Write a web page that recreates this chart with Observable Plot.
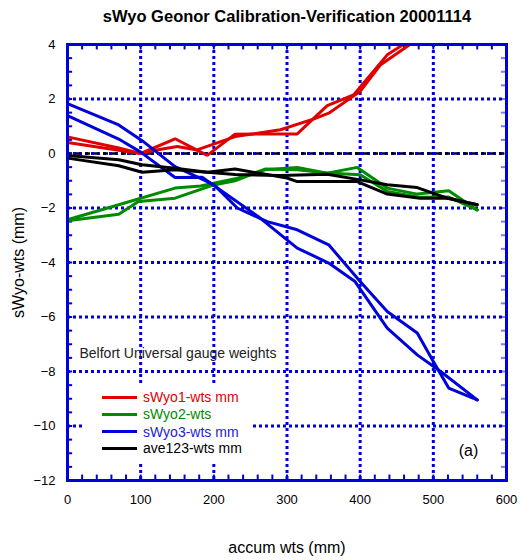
<!DOCTYPE html>
<html><head><meta charset="utf-8">
<script src="https://cdn.jsdelivr.net/npm/d3@7"></script>
<script src="https://cdn.jsdelivr.net/npm/@observablehq/plot@0.6"></script>
<style>
body{margin:0;background:#fff;font-family:"Liberation Sans",Arial,sans-serif}
#wrap{position:relative;width:521px;height:560px}
#legend{position:absolute;left:83px;top:384px;width:167px;height:78px;background:#fff}
.row{position:absolute;left:0;height:18px;width:167px}
.sw{position:absolute;left:19px;top:7.5px;width:35px;height:3px}
.lb{position:absolute;left:60px;top:0;font-size:14px;line-height:18px;white-space:nowrap}
</style>
</head><body><div id="wrap"></div>
<script>
// ---- data (accum wts in mm, differences in mm) ----
const red1X = [0,70,100,147,191,229,314,355,391,437,459];
const red1Y = [0.61,0.20,0.00,0.54,-0.07,0.71,0.72,1.76,2.15,3.62,4.00];
const red2X = [0,70,100,122,150,177,229,291,337,357,400,428,468];
const red2Y = [0.40,0.12,0.00,0.13,0.26,0.13,0.62,0.87,1.27,1.48,2.28,3.26,4.00];

const green1X = [0,70,147,182,229,270,314,355,396,437,478,521,560];
const green1Y = [-2.43,-1.88,-1.27,-1.19,-0.93,-0.60,-0.51,-0.72,-0.51,-1.27,-1.49,-1.37,-2.07];
const green2X = [0,70,97,147,198,229,270,314,355,400,437,482,521,560];
const green2Y = [-2.47,-2.23,-1.76,-1.64,-1.17,-1.00,-0.57,-0.60,-0.72,-0.78,-1.39,-1.61,-1.60,-2.07];

const blue1X = [0,70,102,147,200,232,273,314,357,400,437,478,500,521,560];
const blue1Y = [1.83,1.05,0.47,-0.48,-1.14,-2.00,-2.50,-2.80,-3.35,-4.70,-5.80,-6.59,-7.63,-8.61,-9.04];
const blue2X = [0,70,100,147,184,202,260,300,314,357,393,437,478,510,560];
const blue2Y = [1.39,0.53,0.05,-0.88,-0.87,-1.21,-2.30,-3.17,-3.47,-4.02,-4.70,-6.41,-7.39,-8.00,-9.04];

const ave1X = [0,70,102,147,191,229,300,314,396,437,482,521,560];
const ave1Y = [-0.07,-0.23,-0.41,-0.54,-0.69,-0.57,-0.90,-1.03,-1.03,-1.49,-1.64,-1.64,-1.88];
const ave2X = [0,70,102,147,191,229,291,355,396,437,478,519,560];
const ave2Y = [-0.17,-0.45,-0.69,-0.60,-0.69,-0.77,-0.81,-0.76,-0.95,-1.15,-1.25,-1.64,-1.88];

const xTicks = [0,100,200,300,400,500,600];
const yTicks = [-12,-10,-8,-6,-4,-2,0,2,4];
const xMinor = d3.range(0, 601, 20);
const yMinor = d3.range(-12, 4.01, 0.5);

const legendNames = ["sWyo1-wts mm","sWyo2-wts","sWyo3-wts mm","ave123-wts mm"];
const seriesColors = ["#e00000","#008a00","#0000d8","#000000"];

const titleText = "sWyo Geonor Calibration-Verification 20001114";
const xLabel = "accum wts (mm)";
const yLabel = "sWyo-wts (mm)";
const note = "Belfort Universal gauge weights";
const panel = "(a)";

// ---- build ----
const rows = (xs, ys) => xs.map((x, i) => ({x, y: ys[i]}));
const lineSets = [
  [rows(red1X, red1Y), 0], [rows(red2X, red2Y), 0],
  [rows(green1X, green1Y), 1], [rows(green2X, green2Y), 1],
  [rows(blue1X, blue1Y), 2], [rows(blue2X, blue2Y), 2],
  [rows(ave1X, ave1Y), 3], [rows(ave2X, ave2Y), 3]
];
const gridBlue = "#0000d8";
const ff = '"Liberation Sans", Arial, sans-serif';

const plot = Plot.plot({
  width: 521, height: 560,
  marginLeft: 67, marginRight: 15, marginTop: 44, marginBottom: 80,
  style: {fontFamily: ff, background: "white", color: "black", overflow: "visible"},
  x: {domain: [0, 600]},
  y: {domain: [-12, 4]},
  marks: [
    Plot.gridX(xTicks, {stroke: gridBlue, strokeOpacity: 1, strokeWidth: 3, strokeDasharray: "3,3"}),
    Plot.gridY(yTicks, {stroke: gridBlue, strokeOpacity: 1, strokeWidth: 3, strokeDasharray: "3,3"}),
    Plot.ruleY([0], {stroke: "black", strokeWidth: 2.5, strokeDasharray: "5,4"}),
    Plot.ruleX(xMinor, {x: d => d, y1: -12, y2: -11.8, stroke: gridBlue, strokeWidth: 2}),
    Plot.ruleX(xMinor, {x: d => d, y1: 4, y2: 3.8, stroke: gridBlue, strokeWidth: 2}),
    Plot.ruleY(yMinor, {y: d => d, x1: 0, x2: 7, stroke: gridBlue, strokeWidth: 2}),
    Plot.ruleY(yMinor, {y: d => d, x1: 600, x2: 593, stroke: gridBlue, strokeWidth: 2, strokeOpacity: 0.5}),
    ...lineSets.map(([data, k]) => Plot.line(data, {x: "x", y: "y", stroke: seriesColors[k], strokeWidth: 3, strokeLinejoin: "miter"})),
    Plot.frame({stroke: gridBlue, strokeWidth: 3}),
    Plot.axisX(xTicks, {tickSize: 0, tickPadding: 14, fontSize: 13, label: null}),
    Plot.axisY(yTicks, {tickSize: 0, tickPadding: 12, fontSize: 13, label: null}),
    Plot.text([titleText], {frameAnchor: "top", dy: -28, lineAnchor: "middle", fontWeight: "bold", fontSize: 16.5}),
    Plot.text([xLabel], {frameAnchor: "bottom", dy: 67, lineAnchor: "middle", fontSize: 16}),
    Plot.text([yLabel], {frameAnchor: "left", dx: -49, rotate: -90, textAnchor: "middle", lineAnchor: "middle", fontSize: 16}),
    Plot.text([note], {frameAnchor: "top-left", dx: 12, dy: 309, textAnchor: "start", lineAnchor: "middle", fontSize: 14, fill: "#222"}),
    Plot.text([panel], {frameAnchor: "bottom-right", dx: -38, dy: -30, textAnchor: "middle", lineAnchor: "middle", fontSize: 16})
  ]
});
const wrap = document.getElementById("wrap");
wrap.appendChild(plot);

const lg = document.createElement("div");
lg.id = "legend";
const rowY = [397, 414, 431.5, 448];
legendNames.forEach((name, i) => {
  const r = document.createElement("div");
  r.className = "row";
  r.style.top = (rowY[i] - 384 - 9) + "px";
  r.innerHTML = `<div class="sw" style="background:${seriesColors[i]}"></div><div class="lb" style="color:${seriesColors[i] === "#0000d8" ? "#2222e0" : seriesColors[i]}">${name}</div>`;
  lg.appendChild(r);
});
wrap.appendChild(lg);
</script>
</body></html>
